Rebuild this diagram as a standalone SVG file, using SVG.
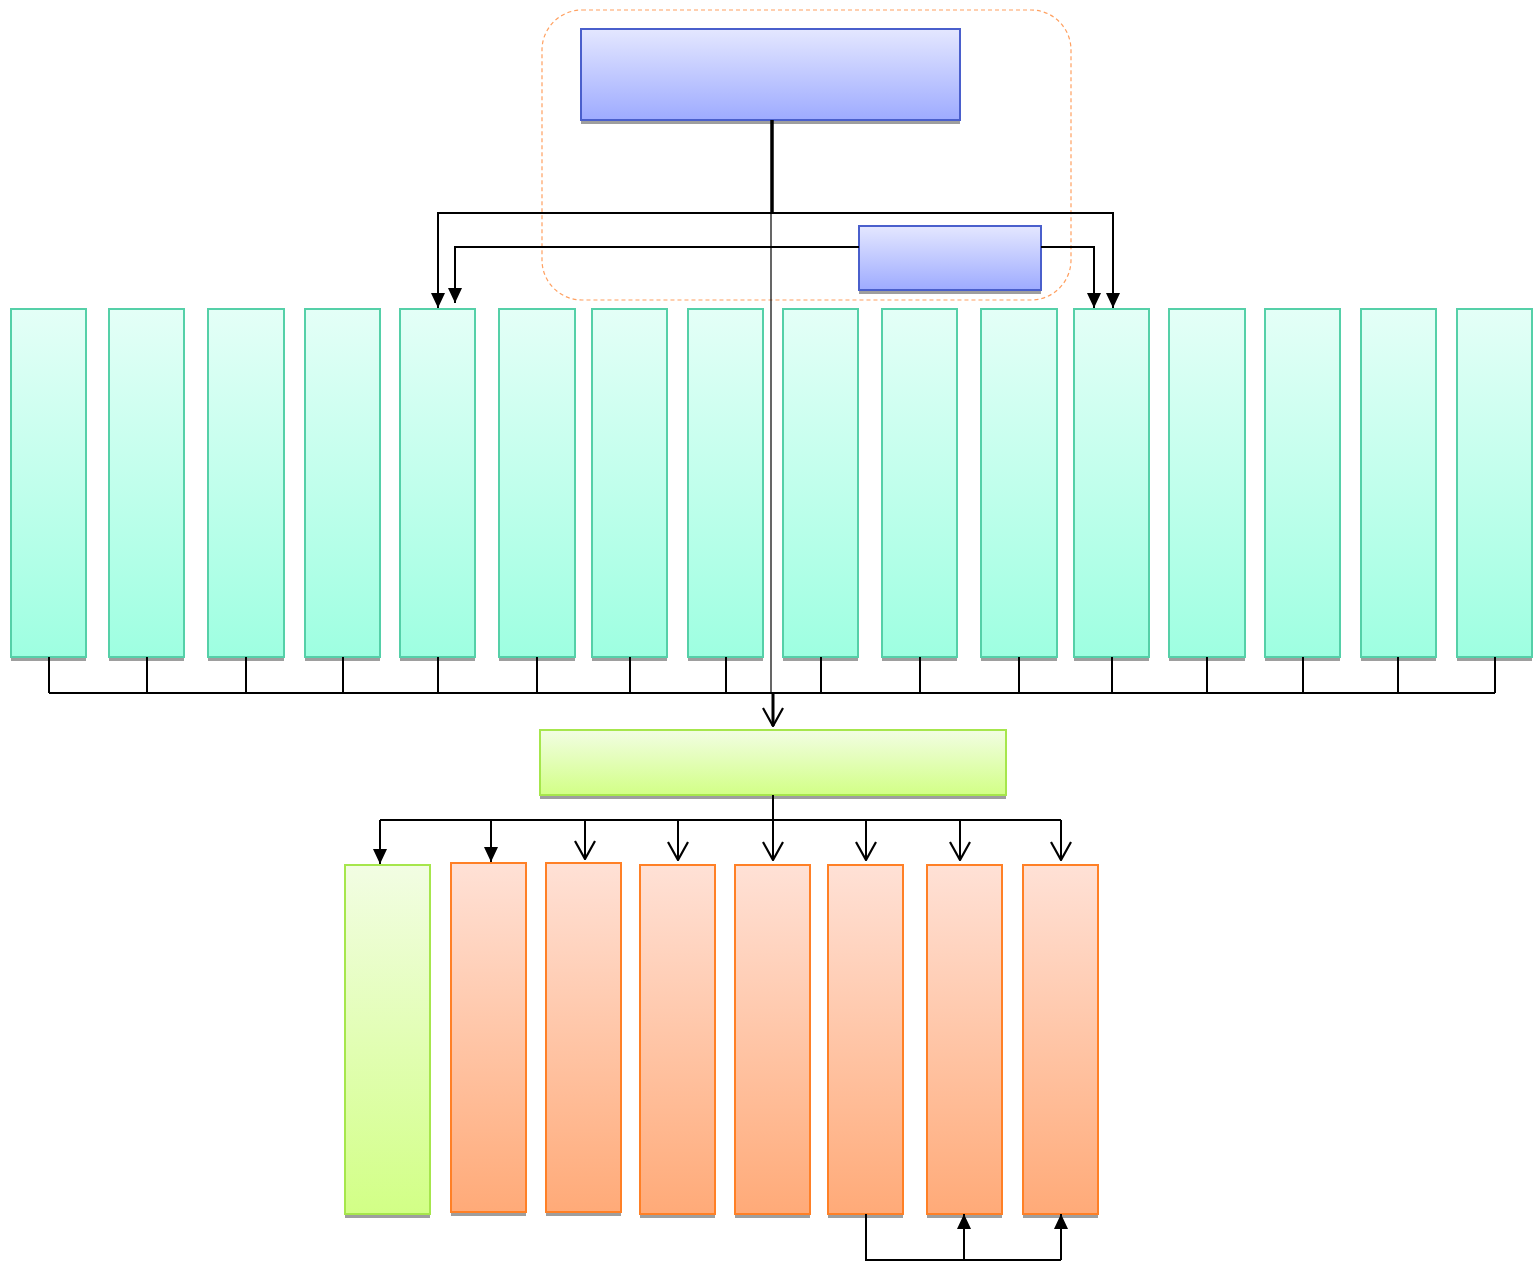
<svg xmlns="http://www.w3.org/2000/svg" width="1535" height="1263" viewBox="0 0 1535 1263">
<defs>
<linearGradient id="gBlue" x1="0" y1="0" x2="0" y2="1"><stop offset="0" stop-color="#e4e7ff"/><stop offset="1" stop-color="#9eabff"/></linearGradient>
<linearGradient id="gTeal" x1="0" y1="0" x2="0" y2="1"><stop offset="0" stop-color="#e4fff7"/><stop offset="1" stop-color="#9effe1"/></linearGradient>
<linearGradient id="gGreen" x1="0" y1="0" x2="0" y2="1"><stop offset="0" stop-color="#f2fde3"/><stop offset="1" stop-color="#d2ff86"/></linearGradient>
<linearGradient id="gOrange" x1="0" y1="0" x2="0" y2="1"><stop offset="0" stop-color="#ffe1d6"/><stop offset="1" stop-color="#ffaa78"/></linearGradient>
<marker id="fa" viewBox="0 0 15 14" refX="15" refY="7" markerWidth="15" markerHeight="14" markerUnits="userSpaceOnUse" orient="auto"><path d="M0,0 L15,7 L0,14 Z" fill="#000"/></marker>
<marker id="oa" viewBox="0 0 20 22" refX="19" refY="11" markerWidth="20" markerHeight="22" markerUnits="userSpaceOnUse" orient="auto"><path d="M1,1 L19,11 L1,21" fill="none" stroke="#000" stroke-width="2.2"/></marker>
<style>
.sh{fill:#9e9e9e}
.b{fill:url(#gBlue);stroke:#4a5fcc;stroke-width:2}
.t{fill:url(#gTeal);stroke:#55d0a8;stroke-width:2}
.g{fill:url(#gGreen);stroke:#a6e64c;stroke-width:2}
.o{fill:url(#gOrange);stroke:#ff8026;stroke-width:2}
.c{fill:none;stroke:#000;stroke-width:2}
</style>
</defs>
<rect x="542" y="10" width="529" height="290" rx="40" ry="40" fill="none" stroke="#ffa060" stroke-width="1.2" stroke-dasharray="4,3"/>
<g id="nodes">
<g id="top"><rect class="sh" x="581" y="33" width="379" height="91"/><rect class="b" x="581" y="29" width="379" height="91"/></g>
<g id="sub"><rect class="sh" x="859" y="230" width="182" height="64"/><rect class="b" x="859" y="226" width="182" height="64"/></g>
<g id="t1"><rect class="sh" x="11" y="313" width="75" height="348"/><rect class="t" x="11" y="309" width="75" height="348"/></g>
<g id="t2"><rect class="sh" x="109" y="313" width="75" height="348"/><rect class="t" x="109" y="309" width="75" height="348"/></g>
<g id="t3"><rect class="sh" x="208" y="313" width="76" height="348"/><rect class="t" x="208" y="309" width="76" height="348"/></g>
<g id="t4"><rect class="sh" x="305" y="313" width="75" height="348"/><rect class="t" x="305" y="309" width="75" height="348"/></g>
<g id="t5"><rect class="sh" x="400" y="313" width="75" height="348"/><rect class="t" x="400" y="309" width="75" height="348"/></g>
<g id="t6"><rect class="sh" x="499" y="313" width="76" height="348"/><rect class="t" x="499" y="309" width="76" height="348"/></g>
<g id="t7"><rect class="sh" x="592" y="313" width="75" height="348"/><rect class="t" x="592" y="309" width="75" height="348"/></g>
<g id="t8"><rect class="sh" x="688" y="313" width="75" height="348"/><rect class="t" x="688" y="309" width="75" height="348"/></g>
<g id="t9"><rect class="sh" x="783" y="313" width="75" height="348"/><rect class="t" x="783" y="309" width="75" height="348"/></g>
<g id="t10"><rect class="sh" x="882" y="313" width="75" height="348"/><rect class="t" x="882" y="309" width="75" height="348"/></g>
<g id="t11"><rect class="sh" x="981" y="313" width="76" height="348"/><rect class="t" x="981" y="309" width="76" height="348"/></g>
<g id="t12"><rect class="sh" x="1074" y="313" width="75" height="348"/><rect class="t" x="1074" y="309" width="75" height="348"/></g>
<g id="t13"><rect class="sh" x="1169" y="313" width="76" height="348"/><rect class="t" x="1169" y="309" width="76" height="348"/></g>
<g id="t14"><rect class="sh" x="1265" y="313" width="75" height="348"/><rect class="t" x="1265" y="309" width="75" height="348"/></g>
<g id="t15"><rect class="sh" x="1361" y="313" width="75" height="348"/><rect class="t" x="1361" y="309" width="75" height="348"/></g>
<g id="t16"><rect class="sh" x="1457" y="313" width="75" height="348"/><rect class="t" x="1457" y="309" width="75" height="348"/></g>
<g id="mid"><rect class="sh" x="540" y="734" width="466" height="65"/><rect class="g" x="540" y="730" width="466" height="65"/></g>
<g id="b0"><rect class="sh" x="345" y="869" width="85" height="349"/><rect class="g" x="345" y="865" width="85" height="349"/></g>
<g id="b1"><rect class="sh" x="451" y="867" width="75" height="349"/><rect class="o" x="451" y="863" width="75" height="349"/></g>
<g id="b2"><rect class="sh" x="546" y="867" width="75" height="349"/><rect class="o" x="546" y="863" width="75" height="349"/></g>
<g id="b3"><rect class="sh" x="640" y="869" width="75" height="349"/><rect class="o" x="640" y="865" width="75" height="349"/></g>
<g id="b4"><rect class="sh" x="735" y="869" width="75" height="349"/><rect class="o" x="735" y="865" width="75" height="349"/></g>
<g id="b5"><rect class="sh" x="828" y="869" width="75" height="349"/><rect class="o" x="828" y="865" width="75" height="349"/></g>
<g id="b6"><rect class="sh" x="927" y="869" width="75" height="349"/><rect class="o" x="927" y="865" width="75" height="349"/></g>
<g id="b7"><rect class="sh" x="1023" y="869" width="75" height="349"/><rect class="o" x="1023" y="865" width="75" height="349"/></g>
</g>
<g id="connectors">
<path d="M772,120 V213" fill="none" stroke="#000" stroke-width="3.5"/>
<path class="c" d="M772,213 H438 V308" marker-end="url(#fa)"/>
<path class="c" d="M772,213 H1113 V308" marker-end="url(#fa)"/>
<path class="c" d="M859,247 H455 V303" marker-end="url(#fa)"/>
<path class="c" d="M1041,247 H1094 V308" marker-end="url(#fa)"/>
<path d="M771,213 V693" fill="none" stroke="#000" stroke-width="1.2"/>
<path d="M49,657 V693 M147,657 V693 M246,657 V693 M343,657 V693 M438,657 V693 M537,657 V693 M630,657 V693 M726,657 V693 M821,657 V693 M920,657 V693 M1019,657 V693 M1112,657 V693 M1207,657 V693 M1303,657 V693 M1398,657 V693 M1495,657 V693 M49,693 H1495" class="c"/>
<path d="M773,693 V726" fill="none" stroke="#000" stroke-width="3" marker-end="url(#oa)"/>
<path class="c" d="M773,795 V820 M380,820 H1061"/>
<path class="c" d="M380,820 V864" marker-end="url(#fa)"/>
<path class="c" d="M491,820 V862" marker-end="url(#fa)"/>
<path class="c" d="M585,820 V859" marker-end="url(#oa)"/>
<path class="c" d="M678,820 V860" marker-end="url(#oa)"/>
<path class="c" d="M773,820 V860" marker-end="url(#oa)"/>
<path class="c" d="M866,820 V860" marker-end="url(#oa)"/>
<path class="c" d="M960,820 V860" marker-end="url(#oa)"/>
<path class="c" d="M1061,820 V860" marker-end="url(#oa)"/>
<path class="c" d="M866,1214 V1260 H1061"/>
<path class="c" d="M964,1260 V1214" marker-end="url(#fa)"/>
<path class="c" d="M1061,1260 V1214" marker-end="url(#fa)"/>
</g>
</svg>
